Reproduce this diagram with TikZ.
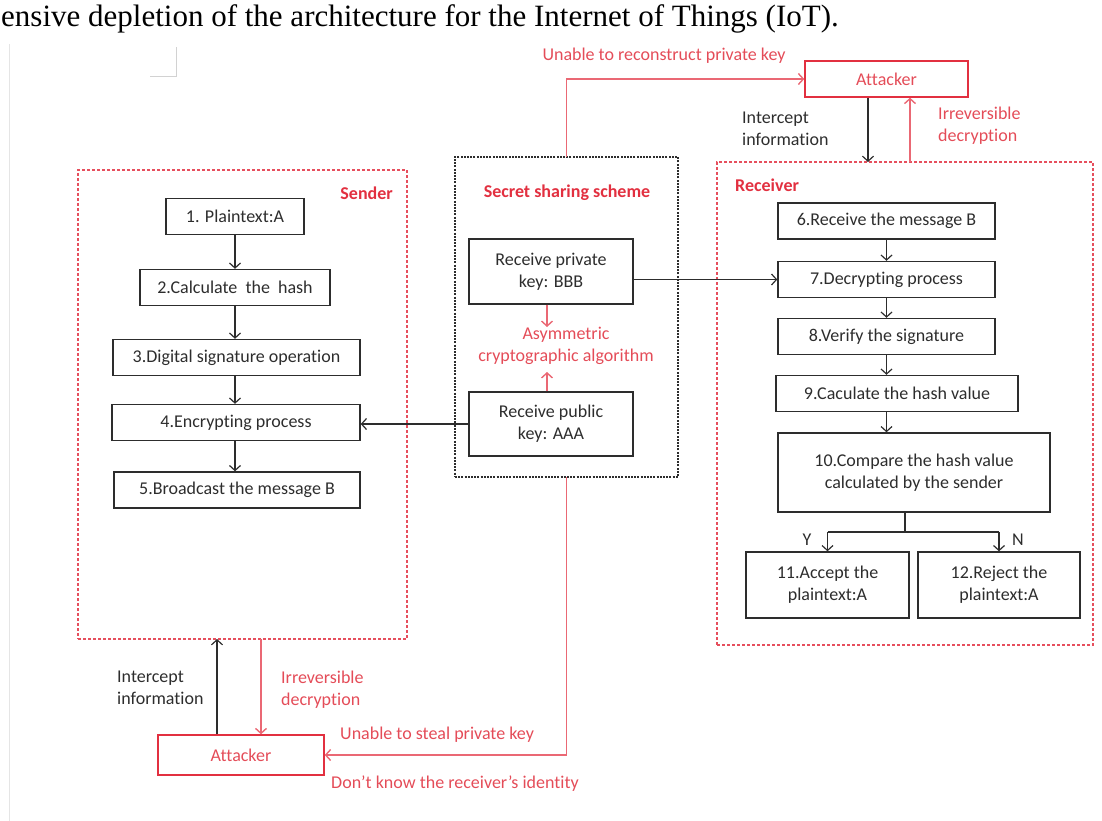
\documentclass[tikz,border=0pt]{standalone}
\usepackage{fontspec}
\setmainfont{Carlito}[Ligatures=NoCommon]
\newfontfamily\pagefont{Liberation Serif}
\usetikzlibrary{arrows.meta, positioning}
\definecolor{atkred}{RGB}{226,48,64}
\definecolor{notered}{RGB}{228,76,88}
\definecolor{linered}{RGB}{234,104,116}
\definecolor{boxgray}{RGB}{45,45,45}
\tikzset{
    %Define standard arrow tip
    >={Straight Barb[length=5pt,width=11pt]},
}

\begin{document}
\begin{tikzpicture}[x=1pt, y=-1pt,
    font=\fontsize{18}{22}\selectfont,
    link/.style = {draw=boxgray, line width=1.2pt},
    stepbox/.style = {draw=boxgray, line width=1.4pt, align=center,
                      minimum height=36pt, inner sep=2pt, text=boxgray},
    frame/.style = {draw=atkred!85, dashed, dash pattern=on 3pt off 2pt,
                    line width=1.2pt, inner sep=0pt, outer sep=0pt},
    attacker/.style = {draw=atkred, line width=1.4pt, text=notered,
                       minimum height=36pt, inner sep=2pt},
    redline/.style = {draw=linered, line width=1.4pt},
    note/.style = {inner sep=0pt, align=left, text=notered},
    title/.style = {inner sep=0pt, text=atkred, font=\fontsize{18}{22}\selectfont\bfseries},
  ]
  \useasboundingbox (0,0) rectangle (1102,821);
  % page remains
  \node[anchor=base west, inner sep=0pt, text=black,
        font=\pagefont\fontsize{31}{34}\selectfont] (pagetext) at (1,27)
        {ensive depletion of the architecture for the Internet of Things (IoT).};
  \draw[gray!35, line width=0.8pt] (150,76) -- (176,76) -- (176,47);
  \draw[gray!20, line width=0.8pt] (9,44) -- (9,821);

  % frames
  \node[frame, minimum width=329pt, minimum height=469pt] (sender) at (242.5,404.5) {};
  \node[frame, draw=boxgray, dash pattern=on 2pt off 1.2pt, line width=2pt,
        minimum width=223pt, minimum height=320pt] (secret) at (566.5,317) {};
  \node[frame, minimum width=376pt, minimum height=483pt] (recv) at (905,403.5) {};
  \node[title, anchor=east] (lblsender) at (393,193) {Sender};
  \node[title] (lblsecret) at (567,193) {Secret sharing scheme};
  \node[title, anchor=west] (lblrecv) at (735,185) {Receiver};

  % sender
  \node[stepbox, minimum width=138pt] (plain) at (235,216.5) {1. Plaintext:A};
  \node[stepbox, minimum width=190pt] (hash) at (235,287.5) {2.Calculate\ \ the\ \ hash};
  \node[stepbox, minimum width=247pt] (sign) at (236.5,357.5) {3.Digital signature operation};
  \node[stepbox, minimum width=248pt] (encr) at (236,422.5) {4.Encrypting process};
  \node[stepbox, minimum width=246pt] (bcast) at (237,490) {5.Broadcast the message B};
  \draw[link, ->] (plain) -- (hash);
  \draw[link, ->] (hash) -- (hash |- sign.north);
  \draw[link, ->] (hash |- sign.south) -- (hash |- encr.north);
  \draw[link, ->] (hash |- encr.south) -- (hash |- bcast.north);

  % secret sharing
  \node[stepbox, minimum width=164pt, minimum height=65pt] (priv) at (551,271.5) {Receive private\\key: BBB};
  \node[stepbox, minimum width=164pt, minimum height=64pt] (pub) at (551,424) {Receive public\\key: AAA};
  \node[note, align=center] (asym) at (566,346) {Asymmetric\\cryptographic algorithm};
  \draw[redline, ->] ([xshift=-4pt]priv.south) -- ([xshift=-4pt]priv.south |- 0,327);
  \draw[redline, ->] ([xshift=-4pt]pub.north) -- ([xshift=-4pt]pub.north |- 0,372);
  \draw[link, ->] (pub.west) -- (pub.west -| encr.east);

  % receiver
  \node[stepbox, minimum width=217pt] (rmsg) at (886.5,221) {6.Receive the message B};
  \node[stepbox, minimum width=217pt] (decr) at (886.5,279.5) {7.Decrypting process};
  \node[stepbox, minimum width=217pt] (verify) at (886.5,336.5) {8.Verify the signature};
  \node[stepbox, minimum width=242pt] (rhash) at (897,393.5) {9.Caculate the hash value};
  \node[stepbox, minimum width=272pt, minimum height=79pt] (cmp) at (914,472.5) {10.Compare the hash value\\calculated by the sender};
  \node[stepbox, minimum width=163pt, minimum height=66pt] (accept) at (827.5,585) {11.Accept the\\plaintext:A};
  \node[stepbox, minimum width=162pt, minimum height=66pt] (reject) at (999,585) {12.Reject the\\plaintext:A};
  \draw[link, ->] (rmsg) -- (decr);
  \draw[link, ->] (decr) -- (verify);
  \draw[link, ->] (verify.south) -- (verify.south |- rhash.north);
  \draw[link, ->] (verify.south |- rhash.south) -- (verify.south |- cmp.north);
  \draw[link, ->] (priv.east |- decr.west) -- (decr.west);
  \coordinate (split) at (905,532);
  \draw[link] (split |- cmp.south) -- (split);
  \draw[link, ->] (accept.north |- split) -- (accept.north);
  \draw[link] (accept.north |- split) -- (reject.north |- split);
  \draw[link, ->] (reject.north |- split) -- (reject.north);
  \node[inner sep=0pt, text=boxgray] (yes) at (807,540) {Y};
  \node[inner sep=0pt, text=boxgray] (no) at (1018,540) {N};

  % attacker on top
  \node[attacker, minimum width=163pt] (atktop) at (886.5,79) {Attacker};
  \draw[redline, ->] (secret.north) |- (atktop.west);
  \node[note] (unable) at (664,56) {Unable to reconstruct private key};
  \draw[link, ->] ([xshift=-18.5pt]atktop.south) -- ([xshift=-18.5pt]atktop.south |- recv.north);
  \draw[redline, ->] ([xshift=23.5pt]atktop.south |- recv.north) -- ([xshift=23.5pt]atktop.south);
  \node[note, anchor=west, text=boxgray] (icpttop) at (742,129) {Intercept\\information};
  \node[note, anchor=west] (irrtop) at (938,126) {Irreversible\\decryption};

  % attacker at bottom
  \node[attacker, minimum width=166pt, minimum height=40pt] (atkbot) at (241,755) {Attacker};
  \draw[link, ->] ([xshift=-24pt]atkbot.north) -- ([xshift=-24pt]atkbot.north |- sender.south);
  \draw[redline, ->] ([xshift=20pt]atkbot.north |- sender.south) -- ([xshift=20pt]atkbot.north);
  \draw[redline, ->] (secret.south) |- (atkbot.east);
  \node[note, anchor=west, text=boxgray] (icptbot) at (117,688) {Intercept\\information};
  \node[note, anchor=west] (irrbot) at (281,690) {Irreversible\\decryption};
  \node[note, anchor=west] (steal) at (340,735) {Unable to steal private key};
  \node[note, anchor=west] (ident) at (331,784) {Don't know the receiver’s identity};
\end{tikzpicture}
\end{document}
